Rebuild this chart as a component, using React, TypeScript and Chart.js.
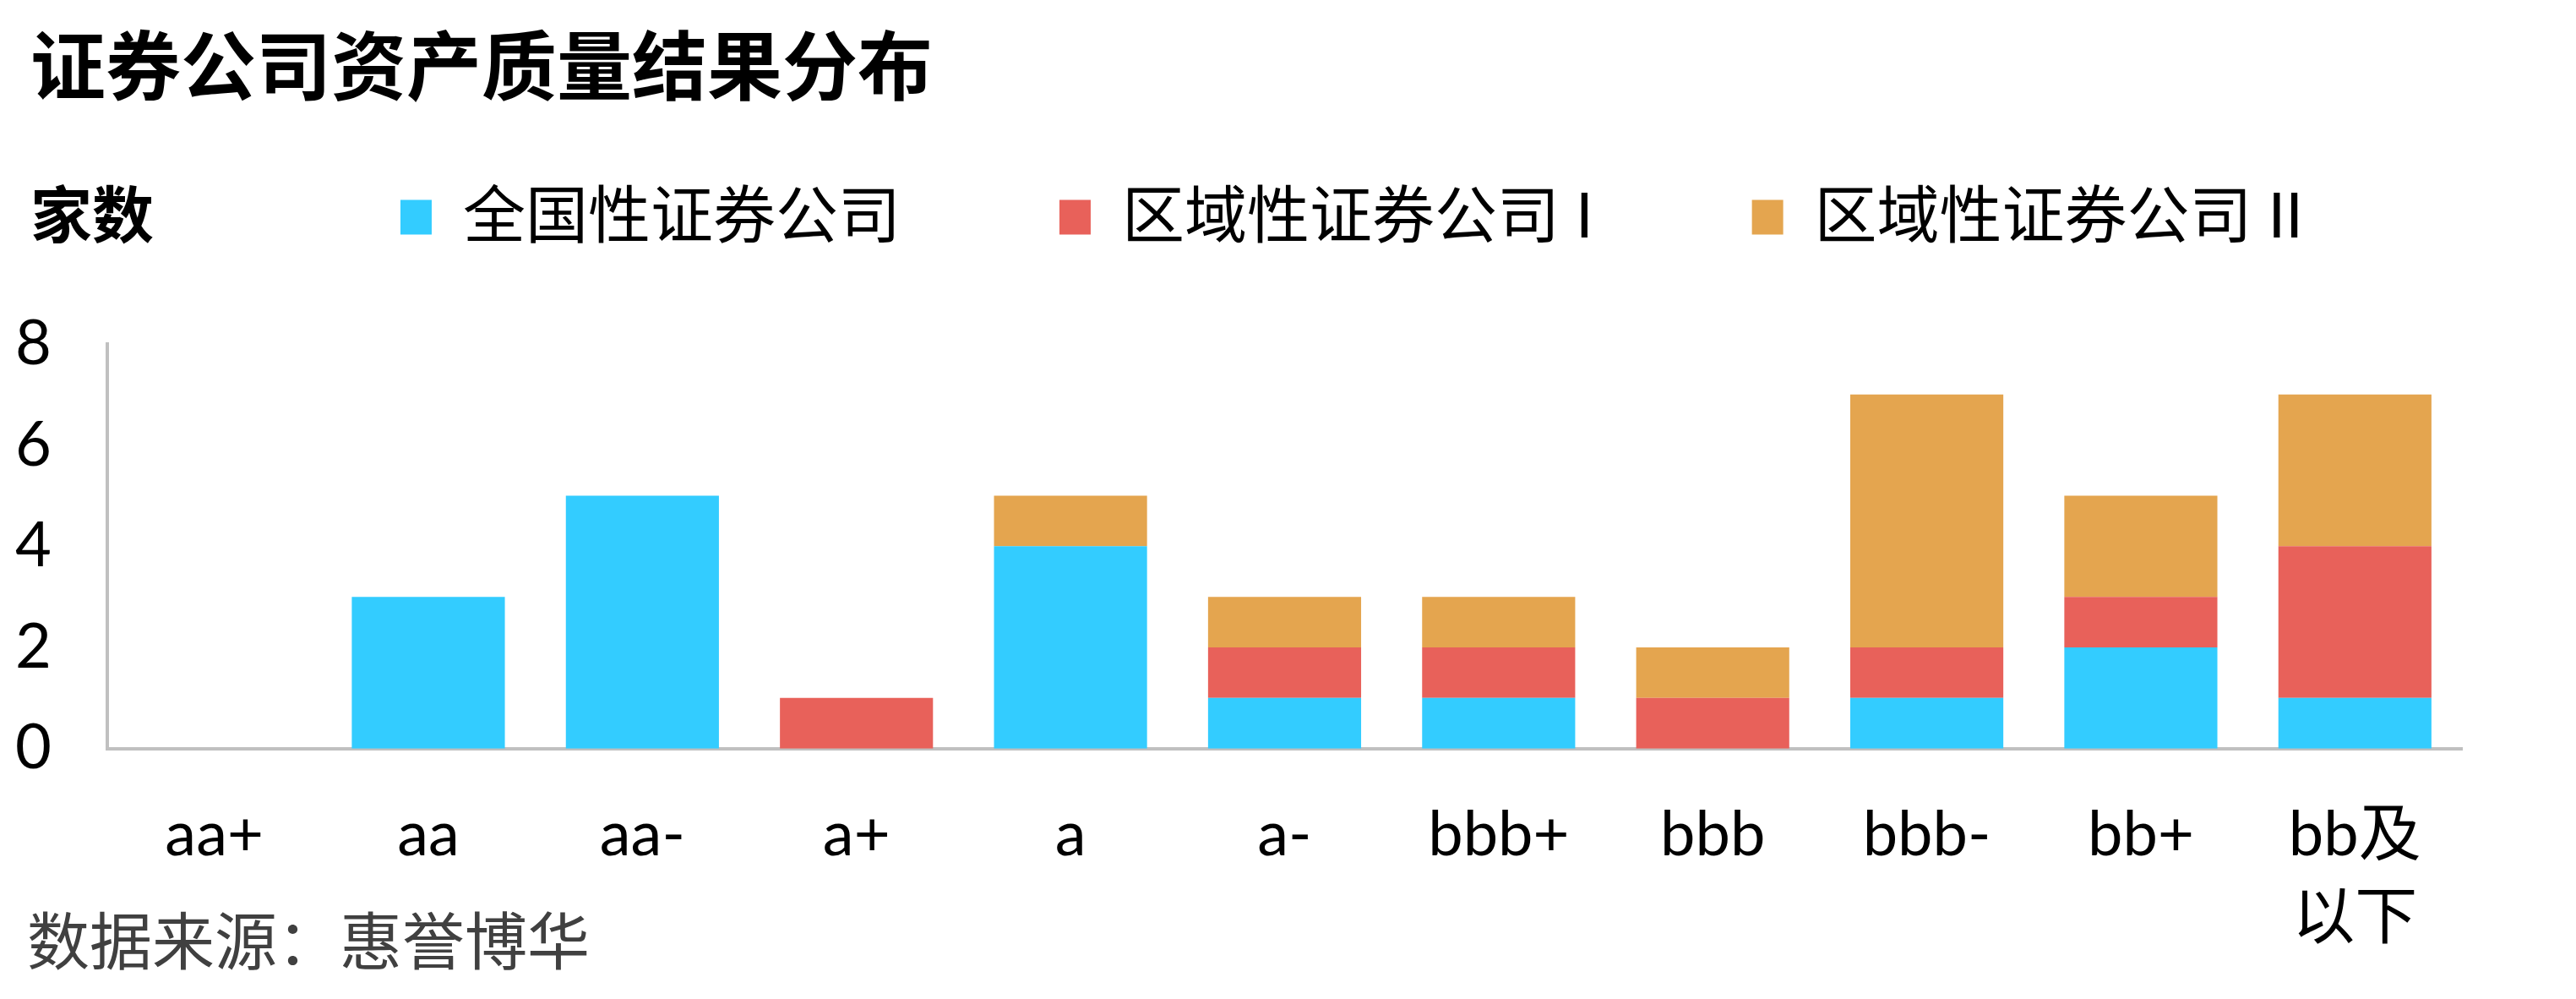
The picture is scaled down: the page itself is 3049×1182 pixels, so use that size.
import React, { useEffect, useRef } from "react";
import { Chart, registerables } from "chart.js";

Chart.register(...registerables);

const categories: (string | string[])[] = ["aa+", "aa", "aa-", "a+", "a", "a-", "bbb+", "bbb", "bbb-", "bb+", ["bb及", "以下"]];
const seriesNames = ["全国性证券公司", "区域性证券公司 I", "区域性证券公司 II"];
const nationalValues = [0, 3, 5, 0, 4, 1, 1, 0, 1, 2, 1];
const regionalIValues = [0, 0, 0, 1, 0, 1, 1, 1, 1, 1, 3];
const regionalIIValues = [0, 0, 0, 0, 1, 1, 1, 1, 5, 2, 3];
const yTicks = [0, 2, 4, 6, 8];

const titleText = "证券公司资产质量结果分布";
const yUnitText = "家数";
const sourceText = "数据来源：惠誉博华";

const FONT = 'Lato, "Noto Sans CJK SC", sans-serif';
const CJK = '"Noto Sans CJK SC", sans-serif';

const legendMargin = {
  id: "legendMargin",
  beforeInit(chart: any) {
    const orig = chart.legend.fit;
    chart.legend.fit = function fit() {
      orig.bind(chart.legend)();
      this.height += 103;
    };
  },
};

export default function App() {
  const ref = useRef<HTMLCanvasElement | null>(null);
  useEffect(() => {
    if (!ref.current) return;
    const chart = new Chart(ref.current, {
      type: "bar",
      data: {
        labels: categories as any,
        datasets: [
          { label: seriesNames[0], data: nationalValues, backgroundColor: "#33CCFF" },
          { label: seriesNames[1], data: regionalIValues, backgroundColor: "#E8615A" },
          { label: seriesNames[2], data: regionalIIValues, backgroundColor: "#E4A54F" },
        ],
      },
      options: {
        animation: false,
        responsive: true,
        maintainAspectRatio: false,
        devicePixelRatio: 1,
        layout: { padding: { left: 10, right: 127, top: 0, bottom: 0 } },
        datasets: { bar: { barPercentage: 0.715, categoryPercentage: 1, borderWidth: 0 } },
        plugins: {
          legend: {
            position: "top",
            align: "end",
            labels: {
              boxWidth: 37,
              boxHeight: 41,
              padding: 188,
              color: "#000",
              font: { family: FONT, size: 74 },
            },
          },
          tooltip: { enabled: false },
          title: { display: false },
        },
        scales: {
          x: {
            stacked: true,
            grid: { display: false, drawTicks: true, tickLength: 54 },
            border: { display: true, color: "#C0C0C0", width: 4 },
            ticks: {
              color: "#000",
              padding: 0,
              maxRotation: 0,
              autoSkip: false,
              font: { family: FONT, size: 74, lineHeight: 1.32 },
            },
          },
          y: {
            stacked: true,
            min: 0,
            max: 8,
            afterBuildTicks(axis: any) {
              axis.ticks = yTicks.map((v) => ({ value: v }));
            },
            grid: { display: false, drawTicks: false },
            border: { display: true, color: "#C0C0C0", width: 4 },
            ticks: {
              color: "#000",
              padding: 33,
              crossAlign: "far",
              font: { family: FONT, size: 74 },
            },
          },
        },
      },
      plugins: [legendMargin],
    });
    return () => chart.destroy();
  }, []);

  return (
    <div style={{ position: "relative", width: 3033, height: 1166, background: "#fff", fontFamily: FONT }}>
      <div style={{ position: "absolute", left: 0, top: 24, width: 3033, height: 1103 }}>
        <canvas ref={ref} />
      </div>
      <div
        style={{
          position: "absolute",
          left: 28,
          top: 20,
          fontFamily: CJK,
          fontWeight: 700,
          fontSize: 89,
          lineHeight: 1,
          color: "#000",
          whiteSpace: "nowrap",
        }}
      >
        {titleText}
      </div>
      <div
        style={{
          position: "absolute",
          left: 28,
          top: 205,
          fontFamily: CJK,
          fontWeight: 700,
          fontSize: 73,
          lineHeight: 1,
          color: "#000",
          whiteSpace: "nowrap",
        }}
      >
        {yUnitText}
      </div>
      <div
        style={{
          position: "absolute",
          left: 24,
          top: 1064,
          fontFamily: CJK,
          fontSize: 74,
          lineHeight: 1,
          color: "#404040",
          whiteSpace: "nowrap",
        }}
      >
        {sourceText}
      </div>
    </div>
  );
}
